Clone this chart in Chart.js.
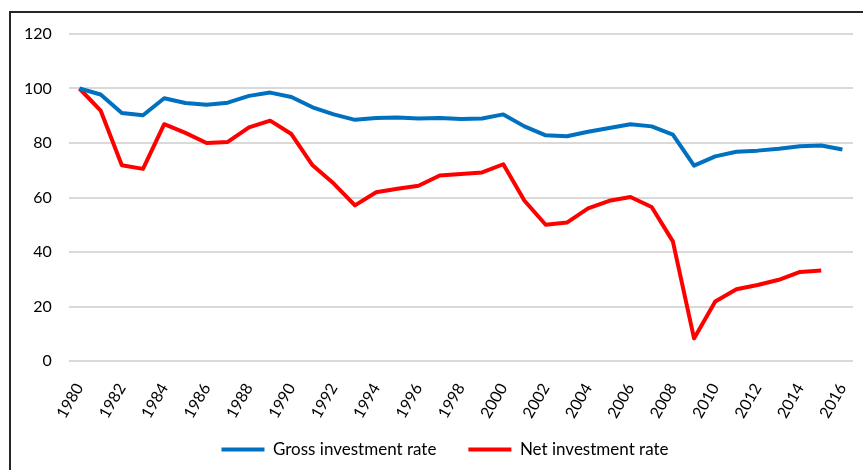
<!DOCTYPE html>
<html>
<head>
<meta charset="utf-8">
<script src="https://cdn.jsdelivr.net/npm/chart.js@4.4.1/dist/chart.umd.min.js"></script>
<style>
    body { margin: 0; background: #fff; }
    .wrap { position: relative; width: 863px; height: 470px; overflow: hidden; }
    .frame {
        position: absolute; left: 9px; top: 11px; width: 900px; height: 500px;
        border-left: 2px solid #262626; border-top: 2px solid #262626;
        pointer-events: none;
    }
</style>
</head>
<body>
<div class="wrap">
    <canvas id="chart"></canvas>
    <div class="frame"></div>
</div>
<script>
const years = ['1980','1981','1982','1983','1984','1985','1986','1987','1988','1989',
    '1990','1991','1992','1993','1994','1995','1996','1997','1998','1999',
    '2000','2001','2002','2003','2004','2005','2006','2007','2008','2009',
    '2010','2011','2012','2013','2014','2015','2016']

const grossRate = [100, 97.8, 91, 90.2, 96.4, 94.7, 94, 94.8, 97.3, 98.5,
    96.9, 93.1, 90.5, 88.5, 89.2, 89.4, 89.0, 89.2, 88.8, 89.0,
    90.5, 86.1, 82.8, 82.5, 84.1, 85.5, 86.9, 86.1, 83.1, 71.7,
    75.1, 76.8, 77.2, 77.9, 78.8, 79.1, 77.6]

const netRate = [100, 91.9, 71.8, 70.5, 86.9, 83.7, 80.0, 80.4, 85.7, 88.2,
    83.3, 71.8, 65.1, 57.1, 61.9, 63.2, 64.3, 68.1, 68.6, 69.2,
    72.2, 58.8, 50.0, 50.8, 56.0, 58.8, 60.2, 56.5, 43.9, 8.3,
    21.8, 26.3, 27.9, 29.8, 32.7, 33.2, null]

const yTicks = [0, 20, 40, 60, 80, 100, 120]

Chart.defaults.font.family = 'Lato, "Liberation Sans", sans-serif'
Chart.defaults.color = '#000'

// keep the legend block short so it sits just under the rotated year labels,
// and nudge it right like in the original (its frame is cut off on the right)
const legendTweak = {
    id: 'legendTweak',
    beforeInit(chart) {
        const fit = chart.legend.fit
        chart.legend.fit = function () {
            fit.call(this)
            this.height = 61
        }
    },
    afterLayout(chart) {
        chart.legend.left += 30
    }
}

const ctx = document.getElementById('chart').getContext('2d')

new Chart(ctx, {
    type: 'line',
    data: {
        labels: years,
        datasets: [{
            label: 'Gross investment rate',
            data: grossRate,
            borderColor: '#0070C0',
            backgroundColor: '#0070C0',
            borderWidth: 4,
            pointRadius: 0,
            tension: 0,
            borderJoinStyle: 'round',
        }, {
            label: 'Net investment rate',
            data: netRate,
            borderColor: '#FF0000',
            backgroundColor: '#FF0000',
            borderWidth: 4,
            pointRadius: 0,
            tension: 0,
            borderJoinStyle: 'round',
        }]
    },
    options: {
        responsive: true,
        maintainAspectRatio: false,
        animation: false,
        layout: {
            padding: { left: 7, right: 10, top: 34, bottom: 0 }
        },
        plugins: {
            legend: {
                position: 'bottom',
                labels: {
                    boxWidth: 43,
                    boxHeight: 4,
                    padding: 32,
                    font: { size: 17 },
                    generateLabels: (chart) => {
                        const items = Chart.defaults.plugins.legend.labels.generateLabels(chart)
                        return items.map(it => ({ ...it, lineWidth: 0, fillStyle: it.strokeStyle }))
                    }
                }
            },
            tooltip: { enabled: false }
        },
        scales: {
            x: {
                offset: true,
                grid: { display: false },
                border: { display: false },
                afterFit: (s) => {
                    s.paddingLeft = 0
                    s.paddingRight = 0
                    s.height = 48
                    s._computeLabelArea = () => null
                },
                ticks: {
                    autoSkip: false,
                    maxRotation: 60,
                    minRotation: 60,
                    padding: 11,
                    font: { size: 16 },
                    callback: (v, i) => i % 2 === 0 ? years[i] : ''
                }
            },
            y: {
                min: 0,
                max: 120,
                afterBuildTicks: (axis) => { axis.ticks = yTicks.map(v => ({ value: v })) },
                grid: { color: '#d9d9d9', lineWidth: 2, drawTicks: false },
                border: { display: false },
                ticks: { padding: 17, font: { size: 16 } }
            }
        }
    },
    plugins: [legendTweak]
})
</script>
</body>
</html>
